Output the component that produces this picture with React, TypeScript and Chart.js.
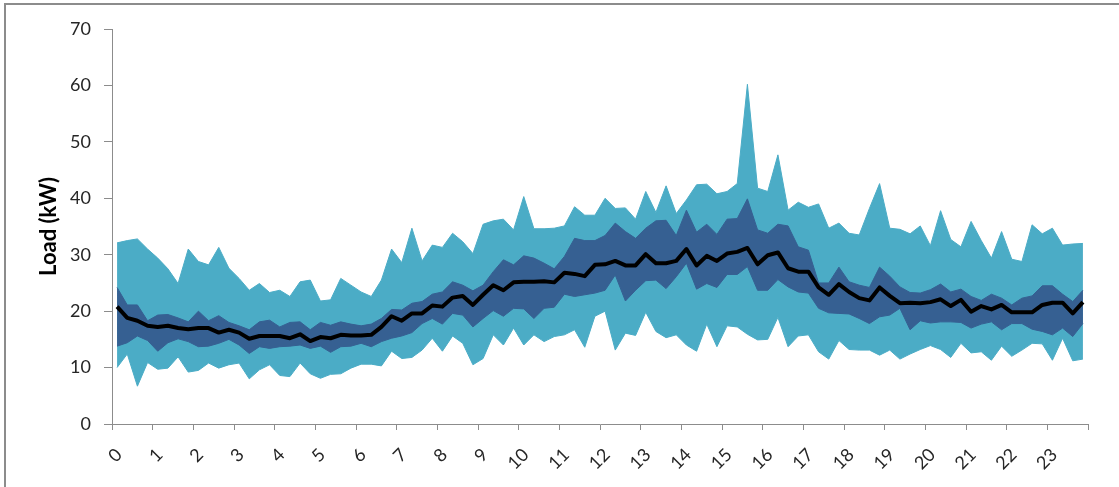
import React, { useEffect, useRef } from 'react';
import { Chart, registerables } from 'chart.js';

Chart.register(...registerables);

const hourLabels = ['0', '1', '2', '3', '4', '5', '6', '7', '8', '9', '10', '11', '12', '13', '14', '15', '16', '17', '18', '19', '20', '21', '22', '23'];

const maxLoad = [
  32.1, 32.5, 32.8, 31.0, 29.4, 27.5, 24.9, 31.0, 28.8, 28.2, 31.3, 27.6, 25.8, 23.7, 24.9, 23.3, 23.7,
  22.6, 25.2, 25.5, 21.8, 22.0, 25.8, 24.6, 23.4, 22.6, 25.5, 31.0, 28.6, 34.7, 28.9, 31.7, 31.3,
  33.8, 32.3, 30.2, 35.4, 36.0, 36.3, 34.4, 40.3, 34.6, 34.6, 34.7, 35.1, 38.5, 37.0, 37.0, 40.0,
  38.2, 38.3, 36.3, 41.2, 37.5, 42.2, 37.3, 39.7, 42.4, 42.5, 40.8, 41.2, 42.6, 60.2, 41.8, 41.2,
  47.7, 37.9, 39.3, 38.4, 39.0, 34.7, 35.6, 33.8, 33.5, 38.2, 42.6, 34.7, 34.5, 33.7, 35.1, 31.6,
  37.8, 32.7, 31.4, 35.9, 32.5, 29.4, 34.1, 29.2, 28.8, 35.3, 33.7, 34.7, 31.7, 31.9, 32.0,
];

const upperLoad = [
  24.2, 21.1, 21.1, 18.3, 19.3, 19.4, 18.8, 18.1, 20.0, 18.3, 19.2, 18.0, 17.4, 16.7, 18.1, 18.4, 17.2,
  18.0, 18.1, 16.7, 18.0, 17.5, 18.1, 17.7, 17.4, 17.7, 18.7, 20.3, 20.2, 21.4, 21.7, 23.0, 23.4,
  25.2, 24.6, 23.6, 24.6, 27.0, 29.1, 28.2, 29.8, 29.4, 28.5, 27.5, 29.7, 32.9, 32.5, 32.5, 33.4,
  35.6, 34.1, 32.9, 34.7, 36.0, 36.1, 33.4, 37.9, 34.0, 35.4, 33.6, 36.3, 36.4, 39.9, 34.4, 33.8,
  35.4, 35.1, 31.4, 30.8, 25.0, 25.0, 27.8, 25.2, 24.6, 24.2, 27.8, 26.2, 24.3, 23.3, 23.2, 23.8,
  24.8, 23.4, 23.9, 22.6, 21.9, 23.0, 22.3, 21.1, 22.3, 22.7, 24.5, 24.5, 23.0, 21.7, 23.7,
];

const meanLoad = [
  20.8, 18.8, 18.3, 17.4, 17.2, 17.4, 17.0, 16.8, 17.0, 17.0, 16.2, 16.7, 16.2, 15.1, 15.6, 15.6, 15.6,
  15.2, 15.9, 14.7, 15.4, 15.2, 15.8, 15.7, 15.7, 15.8, 17.2, 19.1, 18.3, 19.6, 19.6, 21.0, 20.8,
  22.4, 22.7, 21.1, 22.9, 24.6, 23.7, 25.1, 25.2, 25.2, 25.3, 25.1, 26.8, 26.6, 26.2, 28.2, 28.3,
  28.9, 28.1, 28.1, 30.1, 28.5, 28.5, 28.9, 31.0, 28.1, 29.8, 28.9, 30.2, 30.5, 31.2, 28.3, 29.9,
  30.4, 27.6, 27.0, 27.0, 24.2, 22.9, 24.8, 23.4, 22.3, 21.9, 24.2, 22.7, 21.4, 21.5, 21.4, 21.6,
  22.1, 20.9, 22.0, 19.9, 20.9, 20.3, 21.1, 19.8, 19.8, 19.8, 21.1, 21.5, 21.5, 19.6, 21.6,
];

const lowerLoad = [
  13.8, 14.4, 15.6, 14.8, 12.9, 14.4, 15.1, 14.6, 13.7, 13.8, 14.3, 15.0, 14.0, 12.5, 13.7, 13.4, 13.7,
  13.8, 14.0, 13.4, 13.8, 12.7, 13.7, 13.8, 14.3, 13.7, 14.6, 15.2, 15.6, 16.2, 17.8, 18.7, 17.7,
  19.6, 19.3, 17.2, 18.7, 20.1, 19.1, 20.5, 20.4, 18.7, 20.5, 20.7, 23.0, 22.6, 22.9, 23.2, 23.7,
  26.4, 21.8, 23.7, 25.4, 25.5, 24.0, 26.1, 28.5, 23.9, 24.9, 24.2, 26.5, 26.5, 27.9, 23.7, 23.7,
  25.6, 24.3, 23.4, 23.2, 20.5, 19.7, 19.6, 19.5, 18.7, 17.8, 19.0, 19.3, 20.5, 16.7, 18.3, 17.9,
  18.1, 18.1, 18.0, 17.0, 17.7, 18.1, 16.7, 17.8, 17.8, 16.8, 16.4, 15.8, 17.0, 15.5, 17.8,
];

const minLoad = [
  10.0, 12.4, 6.7, 10.9, 9.7, 9.9, 11.9, 9.2, 9.5, 10.8, 9.9, 10.5, 10.8, 8.0, 9.6, 10.5, 8.6,
  8.4, 10.8, 8.9, 8.1, 8.8, 8.9, 9.9, 10.6, 10.6, 10.3, 12.9, 11.6, 11.8, 13.1, 15.2, 12.9,
  15.6, 14.3, 10.5, 11.6, 15.8, 14.0, 17.0, 14.0, 15.8, 14.6, 15.5, 15.8, 16.7, 13.6, 19.1, 20.0,
  13.1, 16.1, 15.7, 19.8, 16.4, 15.3, 15.8, 14.0, 12.9, 17.7, 13.7, 17.4, 17.2, 15.9, 14.9, 15.0,
  18.9, 13.7, 15.6, 15.8, 12.8, 11.5, 14.8, 13.2, 13.1, 13.1, 12.2, 13.1, 11.5, 12.4, 13.2, 13.9,
  13.2, 11.8, 14.3, 12.6, 12.8, 11.3, 13.8, 12.0, 13.1, 14.3, 14.2, 11.3, 15.2, 11.2, 11.5,
];

// 15-minute slots, placed at the centre of each quarter hour
const slotCenters = maxLoad.map((_, i) => (i + 0.5) / 4);
const toPoints = (arr: number[]) => arr.map((y, i) => ({ x: slotCenters[i], y }));

const TEAL = '#4BACC6';
const NAVY = '#366092';
const AXIS = '#8c8c8c';
const FONT = 'Lato, "Open Sans", sans-serif';

export default function App() {
  const ref = useRef<HTMLCanvasElement>(null);

  useEffect(() => {
    const chart = new Chart(ref.current as HTMLCanvasElement, {
      type: 'line',
      data: {
        datasets: [
          {
            label: 'Mean',
            data: toPoints(meanLoad),
            borderColor: '#000000',
            borderWidth: 4,
            pointRadius: 0,
            fill: false,
            tension: 0,
            borderJoinStyle: 'round',
          },
          {
            label: 'Upper',
            data: toPoints(upperLoad),
            borderColor: NAVY,
            backgroundColor: NAVY,
            borderWidth: 1,
            pointRadius: 0,
            fill: '+1',
            tension: 0,
          },
          {
            label: 'Lower',
            data: toPoints(lowerLoad),
            borderColor: NAVY,
            borderWidth: 1,
            pointRadius: 0,
            fill: false,
            tension: 0,
          },
          {
            label: 'Max',
            data: toPoints(maxLoad),
            borderColor: TEAL,
            backgroundColor: TEAL,
            borderWidth: 1,
            pointRadius: 0,
            fill: '+1',
            tension: 0,
          },
          {
            label: 'Min',
            data: toPoints(minLoad),
            borderColor: TEAL,
            borderWidth: 1,
            pointRadius: 0,
            fill: false,
            tension: 0,
          },
        ],
      },
      options: {
        animation: false,
        responsive: false,
        devicePixelRatio: 1,
        layout: { padding: { top: 29, right: 31, left: 0, bottom: 0 } },
        plugins: { legend: { display: false }, tooltip: { enabled: false } },
        scales: {
          x: {
            type: 'linear',
            min: 0,
            max: 24,
            afterFit: (scale: any) => {
              scale.height = 63;
            },
            grid: { drawOnChartArea: false, drawTicks: true, tickLength: 6, color: AXIS },
            border: { color: AXIS, width: 1 },
            ticks: {
              stepSize: 1,
              autoSkip: false,
              maxRotation: 45,
              minRotation: 45,
              padding: 14,
              labelOffset: 7,
              color: '#262626',
              font: { family: FONT, size: 18 },
              callback: (v: any) => hourLabels[Number(v)] ?? '',
            },
          },
          y: {
            min: 0,
            max: 70,
            afterFit: (scale: any) => {
              scale.width = 112;
            },
            grid: { drawOnChartArea: false, drawTicks: true, tickLength: 8, color: AXIS },
            border: { color: AXIS, width: 1 },
            ticks: {
              stepSize: 10,
              padding: 13,
              color: '#262626',
              font: { family: FONT, size: 18 },
            },
            title: {
              display: true,
              text: 'Load (kW)',
              color: '#000000',
              font: { family: FONT, size: 22, weight: 'bold' },
              padding: { top: 36, bottom: 0 },
            },
          },
        },
      },
    });
    return () => chart.destroy();
  }, []);

  return (
    <div
      style={{
        position: 'fixed',
        left: 0,
        top: 0,
        width: 1119,
        height: 487,
        overflow: 'hidden',
        background: '#ffffff',
      }}
    >
      <div
        style={{
          position: 'absolute',
          left: 4,
          top: 3,
          width: 1300,
          height: 700,
          border: '2px solid #8c8c8c',
          boxSizing: 'border-box',
        }}
      />
      <canvas ref={ref} width={1119} height={487} style={{ position: 'absolute', left: 0, top: 0 }} />
    </div>
  );
}
